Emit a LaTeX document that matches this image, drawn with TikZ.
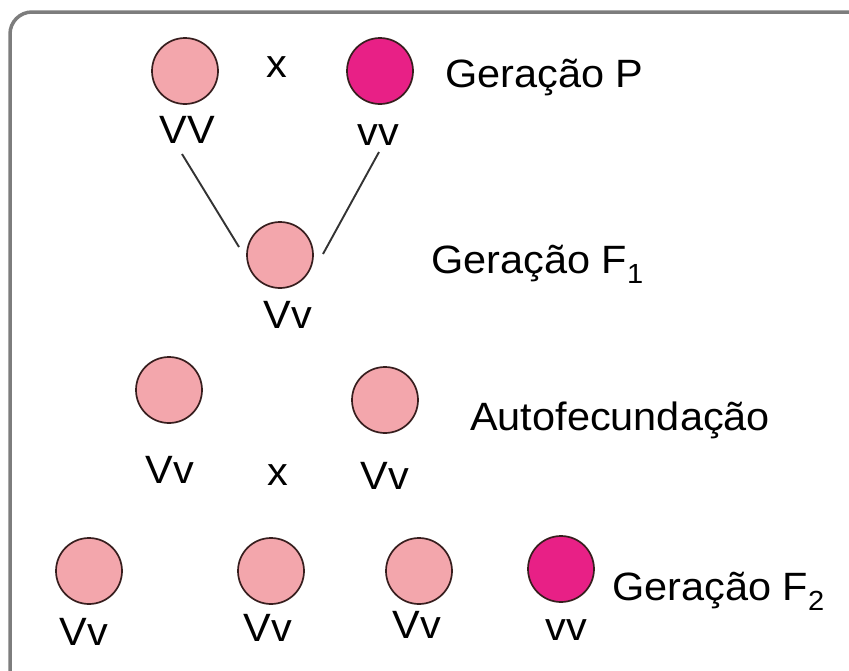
\documentclass[tikz,border=0pt]{standalone}
\usepackage{fontspec}
\setmainfont[FakeStretch=1.05]{Liberation Sans}
\usetikzlibrary{positioning}

\definecolor{lightpink}{RGB}{243,166,172}
\definecolor{deeppink}{RGB}{232,32,134}
\definecolor{rim}{RGB}{55,30,30}
\definecolor{framegray}{RGB}{125,125,125}

\begin{document}
\begin{tikzpicture}[x=1pt, y=-1pt,
    every node/.style={font=\fontsize{39.5}{44}\selectfont, text=black},
    pea/.style={circle, draw=rim, line width=1.7pt, fill=lightpink,
        minimum size = 66pt, inner sep=0pt},
    dark/.style={pea, fill=deeppink},
    geno/.style={anchor=base, inner sep=0pt},
    gen/.style={anchor=base west, inner sep=0pt},
    link/.style={draw=black!80, line width=1.9pt}
]

    \useasboundingbox (0,0) rectangle (849,670);
    \draw[framegray, line width=3.5pt, rounded corners=22pt]
        (10,12) rectangle (880,700);

    % Generation P ----------------------------------------------

    \node[pea] (p1) at (185,71) {};
    \node[dark] (p2) at (380,71) {};
    \node[geno] (cross1) at (277,77) {x};
    \node[geno] (g1) at (187,143) {VV};
    \node[geno] (g2) at (378,145) {vv};
    \node[gen] (lblP) at (445,87) {Geração P};

    % Generation F1 ---------------------------------------------

    \node[pea] (f1) at (280,255) {};
    \node[geno] (g3) at (288,328) {Vv};
    \node[gen] (lblF1) at (431,273) {Geração F\textsubscript{1}};

    \coordinate (l1a) at (182,154);
    \coordinate (l1b) at (239,247);
    \coordinate (l2a) at (379,152);
    \coordinate (l2b) at (323,254);
    \path[link] (l1a) -- (l1b);
    \path[link] (l2a) -- (l2b);

    % Self-fertilisation ----------------------------------------

    \node[pea] (a1) at (169,390) {};
    \node[pea] (a2) at (385,400) {};
    \node[geno] (g4) at (170,483) {Vv};
    \node[geno] (cross2) at (278,485) {x};
    \node[geno] (g5) at (385,489) {Vv};
    \node[gen] (lblA) at (470,430) {Autofecundação};

    % Generation F2 ---------------------------------------------

    \node[pea] (s1) at (89,571) {};
    \node[pea] (s2) at (271,571) {};
    \node[pea] (s3) at (419,571) {};
    \node[dark] (s4) at (561,569) {};
    \node[geno] (g6) at (84,645) {Vv};
    \node[geno] (g7) at (268,641) {Vv};
    \node[geno] (g8) at (417,638) {Vv};
    \node[geno] (g9) at (566,640) {vv};
    \node[gen] (lblF2) at (612,600) {Geração F\textsubscript{2}};

\end{tikzpicture}
\end{document}
